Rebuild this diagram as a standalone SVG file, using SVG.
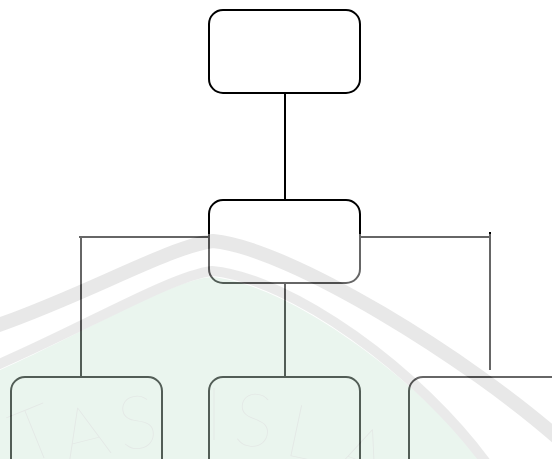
<svg xmlns="http://www.w3.org/2000/svg" width="552" height="459" viewBox="0 0 552 459">
  <style>
    .box { fill: none; stroke: #000; stroke-width: 2; }
    .link { fill: none; stroke: #000; stroke-width: 2; }
    .band { fill: none; stroke: #c6c6c6; stroke-width: 14; }
    .band-inner { fill: none; stroke: #cdcdcd; stroke-width: 10; }
    .wm-letter { font-family: "Lato", "Liberation Sans", sans-serif; font-weight: 100; font-size: 74px; fill: #bcc8c1; text-anchor: middle; }
  </style>
  <defs>
    <clipPath id="overlay-clip">
      <rect x="0" y="234" width="552" height="225"/>
    </clipPath>
  </defs>
  <rect width="552" height="459" fill="#fff"/>

  <!-- connectors -->
  <g id="connectors">
    <line class="link" x1="285" y1="93" x2="285" y2="200"/>
    <polyline class="link" points="79,237 209,237"/>
    <line class="link" x1="81" y1="237" x2="81" y2="377"/>
    <polyline class="link" points="360,237 490,237"/>
    <line class="link" x1="490" y1="232" x2="490" y2="370"/>
    <line class="link" x1="285" y1="283" x2="285" y2="377"/>
  </g>

  <!-- nodes -->
  <g id="node-top">
    <rect class="box" x="209" y="10" width="151" height="83" rx="14"/>
  </g>
  <g id="node-middle">
    <rect class="box" x="209" y="200" width="151" height="83" rx="14"/>
  </g>
  <g id="node-left">
    <rect class="box" x="11" y="377" width="151" height="95" rx="14"/>
  </g>
  <g id="node-centre">
    <rect class="box" x="209" y="377" width="151" height="95" rx="14"/>
  </g>
  <g id="node-right">
    <rect class="box" x="409" y="377" width="160" height="95" rx="14"/>
  </g>

  <!-- translucent watermark layer over the lower part of the page -->
  <g id="watermark" clip-path="url(#overlay-clip)" opacity="0.4">
    <rect x="0" y="234" width="552" height="225" fill="#fff"/>
    <path d="M-10,380 L0,370 C90,330 170,280 212,277 C290,284 420,380 490,470 L-10,470 Z" fill="#cde8d7"/>
    <path class="band" d="M-10,328 C80,298 170,246 213,241 C290,248 470,360 560,440"/>
    <path class="band-inner" d="M-10,368 C80,330 170,276 212,271 C290,278 420,370 490,468"/>
    <text class="wm-letter" transform="translate(44,458) rotate(-22)">T</text>
    <text class="wm-letter" transform="translate(90,458) rotate(-14)">A</text>
    <text class="wm-letter" transform="translate(141,448) rotate(-8)">S</text>
    <text class="wm-letter" transform="translate(214,440)">I</text>
    <text class="wm-letter" transform="translate(252,446) rotate(4)">S</text>
    <text class="wm-letter" transform="translate(300,458) rotate(12)">L</text>
    <text class="wm-letter" transform="translate(355,478) rotate(20)">A</text>
  </g>
</svg>
